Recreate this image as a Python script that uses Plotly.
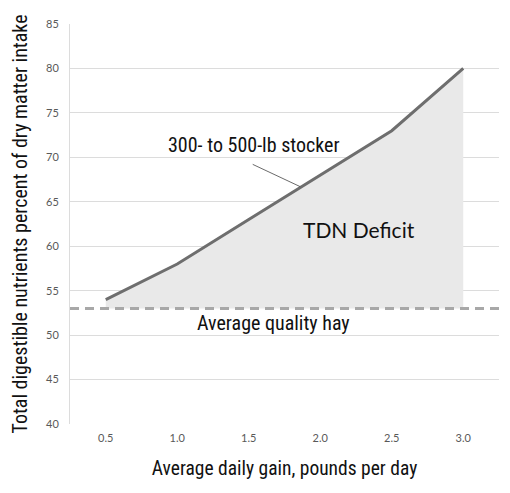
import plotly.graph_objects as go

# average daily gain (lb/day) and TDN requirement (% of DM intake)
gain = [0.5, 1.0, 1.5, 2.0, 2.5, 3.0]
gain_labels = ["0.5", "1.0", "1.5", "2.0", "2.5", "3.0"]
tdn_required = [54, 58, 63, 68, 73, 80]
hay_tdn = 53
y_ticks = [40, 45, 50, 55, 60, 65, 70, 75, 80, 85]

NARROW = "Liberation Sans Narrow, Arial Narrow, Roboto Condensed, sans-serif"
TICKFONT = dict(family="Lato, Carlito, Calibri, sans-serif", size=11, color="#595959")

fig = go.Figure()

# baseline for the deficit area
fig.add_trace(go.Scatter(
    x=gain, y=[hay_tdn] * len(gain),
    mode="lines", line=dict(width=0, color="rgba(0,0,0,0)"),
    hoverinfo="skip", showlegend=False,
))
fig.add_trace(go.Scatter(
    x=gain, y=tdn_required,
    mode="lines", line=dict(width=0, color="rgba(0,0,0,0)"),
    fill="tonexty", fillcolor="#e9e9e9",
    hoverinfo="skip", showlegend=False,
))
fig.add_trace(go.Scatter(
    x=gain, y=tdn_required,
    mode="lines", line=dict(width=3, color="#6e6e6e"),
    showlegend=False,
))

# hay quality reference line
fig.add_shape(
    type="line", xref="paper", yref="y",
    x0=0, x1=1, y0=hay_tdn, y1=hay_tdn,
    line=dict(color="#a8a8a8", width=3, dash="9px,6px"),
)

# leader line from the label down to the curve
fig.add_annotation(
    x=1.86, y=66.7, text="",
    showarrow=True, arrowhead=0, arrowwidth=0.8, arrowcolor="#444444",
    ax=-49, ay=-23,
)
fig.add_annotation(
    x=1.54, y=71.4, text="300- to 500-lb stocker", showarrow=False,
    font=dict(family=NARROW, size=20, color="#111111"),
)
fig.add_annotation(
    x=2.27, y=61.9, text="TDN Deficit", showarrow=False,
    xanchor="center", font=dict(family="Lato, Carlito, sans-serif", size=21, color="#111111"),
)
fig.add_annotation(
    x=1.67, y=51.4, text="Average quality hay", showarrow=False,
    font=dict(family=NARROW, size=20, color="#111111"),
)

# page body has an 8px margin, so the figure is shrunk to fit the window
fig.update_layout(
    width=502, height=485,
    margin=dict(l=54, r=11, t=9, b=69),
    plot_bgcolor="white", paper_bgcolor="white",
    showlegend=False,
)
fig.update_xaxes(
    range=[0.25, 3.25], tickvals=gain, ticktext=gain_labels,
    showgrid=False, zeroline=False, showline=False,
    ticks="", tickfont=TICKFONT, ticklabelstandoff=6,
    title=dict(text="Average daily gain, pounds per day",
               font=dict(family=NARROW, size=19.5, color="#111111"), standoff=18),
)
fig.update_yaxes(
    range=[40, 85], tickvals=y_ticks,
    showgrid=True, gridcolor="#dcdcdc", gridwidth=1,
    zeroline=False, showline=True, linecolor="#dcdcdc", linewidth=1,
    ticks="", tickfont=TICKFONT, ticklabelstandoff=8,
    title=dict(text="Total digestible nutrients percent of dry matter intake",
               font=dict(family=NARROW, size=20, color="#111111"), standoff=15),
)

fig.write_html("out.html")
